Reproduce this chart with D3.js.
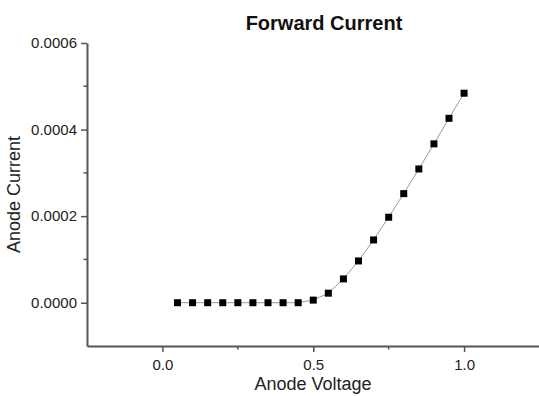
<!DOCTYPE html>
<html>
<head>
<meta charset="utf-8">
<script src="https://cdn.jsdelivr.net/npm/d3@7"></script>
<style>
  html, body { margin: 0; padding: 0; background: #fff; }
  svg { display: block; font-family: "Liberation Sans", Arial, sans-serif; }
</style>
</head>
<body>
<div id="chart"></div>
<script>
// Forward current sweep
const voltage = [0.05, 0.10, 0.15, 0.20, 0.25, 0.30, 0.35, 0.40, 0.45, 0.50,
                 0.55, 0.60, 0.65, 0.70, 0.75, 0.80, 0.85, 0.90, 0.95, 1.00];
const current = [0, 0, 0, 0, 0, 0, 0, 0, 0, 0.000006,
                 0.000022, 0.000055, 0.0000965, 0.000145, 0.0001975, 0.000252, 0.000309, 0.000367, 0.000426, 0.000484];

const xMajorTicks = [0.0, 0.5, 1.0];
const xMinorTicks = [0.25, 0.75];
const yMajorTicks = [0.0000, 0.0002, 0.0004, 0.0006];
const yMinorTicks = [0.0001, 0.0003, 0.0005];

const chartTitle = "Forward Current";
const xTitle = "Anode Voltage";
const yTitle = "Anode Current";

const width = 539, height = 396;
const margin = { left: 87, right: 0, top: 43, bottom: 50 };

const svg = d3.select("#chart").append("svg")
  .attr("width", width)
  .attr("height", height);

// scales: x runs past the right edge, like the cropped original
const x = d3.scaleLinear().domain([-0.25, 1.25]).range([margin.left, margin.left + 452.5]);
const y = d3.scaleLinear().domain([-0.0001, 0.0006]).range([height - margin.bottom, margin.top]);

const axisColor = "#555";

// x axis
const gx = svg.append("g").attr("transform", `translate(0,${y(-0.0001)})`);
gx.call(d3.axisBottom(x).tickValues(xMajorTicks).tickFormat(d3.format(".1f")).tickSize(6).tickSizeOuter(0))
  .call(g => g.select(".domain").attr("stroke", axisColor).attr("stroke-width", 2));
gx.selectAll(".tick line").attr("stroke", axisColor).attr("stroke-width", 1.5);
gx.selectAll(".tick text").attr("fill", "#222").style("font-size", "15px").attr("dy", "1.0em");
gx.append("g").selectAll("line").data(xMinorTicks).join("line")
  .attr("x1", d => x(d)).attr("x2", d => x(d))
  .attr("y1", 0).attr("y2", 3.5)
  .attr("stroke", axisColor).attr("stroke-width", 1.5);

// y axis
const gy = svg.append("g").attr("transform", `translate(${x(-0.25)},0)`);
gy.call(d3.axisLeft(y).tickValues(yMajorTicks).tickFormat(d3.format(".4f")).tickSize(6).tickSizeOuter(0))
  .call(g => g.select(".domain").attr("stroke", axisColor).attr("stroke-width", 2));
gy.selectAll(".tick line").attr("stroke", axisColor).attr("stroke-width", 1.5);
gy.selectAll(".tick text").attr("fill", "#222").style("font-size", "15px").attr("x", -10);
gy.append("g").selectAll("line").data(yMinorTicks).join("line")
  .attr("x1", 0).attr("x2", -3.5)
  .attr("y1", d => y(d)).attr("y2", d => y(d))
  .attr("stroke", axisColor).attr("stroke-width", 1.5);

// data line + square markers
const pts = voltage.map((v, i) => ({ v, c: current[i] }));

svg.append("path")
  .datum(pts)
  .attr("fill", "none")
  .attr("stroke", "#999")
  .attr("stroke-width", 1)
  .attr("d", d3.line().x(d => x(d.v)).y(d => y(d.c)));

const ms = 7;
svg.append("g").selectAll("rect").data(pts).join("rect")
  .attr("x", d => x(d.v) - ms / 2)
  .attr("y", d => y(d.c) - ms / 2)
  .attr("width", ms)
  .attr("height", ms)
  .attr("fill", "#000");

// titles
svg.append("text")
  .attr("x", 324).attr("y", 30)
  .attr("text-anchor", "middle")
  .style("font-size", "20px")
  .style("font-weight", "bold")
  .attr("fill", "#111")
  .text(chartTitle);

svg.append("text")
  .attr("x", 313).attr("y", 390)
  .attr("text-anchor", "middle")
  .style("font-size", "18px")
  .attr("fill", "#222")
  .text(xTitle);

svg.append("text")
  .attr("transform", `translate(20,${(y(0.0006) + y(-0.0001)) / 2}) rotate(-90)`)
  .attr("text-anchor", "middle")
  .style("font-size", "18px")
  .attr("fill", "#222")
  .text(yTitle);
</script>
</body>
</html>
